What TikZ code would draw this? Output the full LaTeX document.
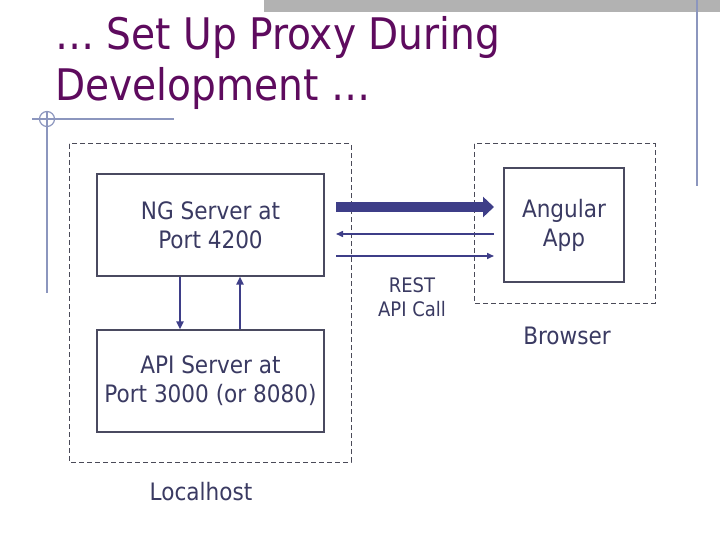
\documentclass[tikz,border=0pt]{standalone}
\usepackage{fontspec}
\setmainfont{DejaVu Sans Condensed}
\usetikzlibrary{arrows.meta}
\definecolor{titlec}{HTML}{5E0B5E}
\definecolor{txtc}{HTML}{3A3A62}
\definecolor{boxc}{HTML}{4A4A60}
\definecolor{arrc}{HTML}{3E3E88}
\definecolor{decoc}{HTML}{8C96BE}
\definecolor{checkc}{HTML}{B2B2B2}
\definecolor{dashc}{HTML}{4A4A58}
\begin{document}
\begin{tikzpicture}[x=1pt,y=-1pt,
  box/.style={draw=boxc, line width=1.2pt, inner sep=0pt, text=txtc, align=center,
    font=\fontsize{24}{29}\selectfont},
  label/.style={text=txtc, align=center, inner sep=0pt},
  region/.style={draw=dashc, line width=1pt, dash pattern=on 5pt off 3pt},
  deco/.style={draw=decoc, line width=1.2pt},
  bigarrow/.style={draw=arrc, line width=10pt, -{Triangle[length=11pt,width=20pt]}},
  thinarrow/.style={draw=arrc, line width=1.5pt, -{Triangle[length=7pt,width=6pt]}},
  vertarrow/.style={draw=arrc, line width=2pt, -{Triangle[length=8pt,width=7pt]}},
  titletext/.style={text=titlec, anchor=base west, inner sep=0pt, font=\fontsize{43.5}{50}\selectfont}
]
\useasboundingbox (0,0) rectangle (720,540);
\fill[white] (0,0) rectangle (720,540);

% decorative slide elements
\fill[checkc] (264,0) rectangle (720,12);
\draw[deco] (697,0) -- (697,186);
\draw[deco] (32,119) -- (174,119);
\draw[deco] (47,112) -- (47,293);
\draw[deco] (47,119) circle (7.5);

% title
\node[titletext] (title1) at (55,50) {… Set Up Proxy During};
\node[titletext] (title2) at (55,101) {Development …};

% regions
\draw[region] (69,144) rectangle (351,462);
\draw[region] (474,144) rectangle (655,303);

% boxes
\node[box, minimum width=227pt, minimum height=102pt] (ng) at (210.5,225) {NG Server at\\Port 4200};
\node[box, minimum width=227pt, minimum height=102pt] (api) at (210.5,381) {API Server at\\Port 3000 (or 8080)};
\node[box, minimum width=120pt, minimum height=114pt] (app) at (564,225) {Angular\\App};

% labels
\node[label, font=\fontsize{20}{24}\selectfont] (rest) at (412,297) {REST\\API Call};
\node[label, font=\fontsize{24}{29}\selectfont] (browser) at (567,336) {Browser};
\node[label, font=\fontsize{24}{29}\selectfont] (localhost) at (201,492) {Localhost};

% arrow end points
\coordinate (a1s) at (336,207);
\coordinate (a1e) at (494,207);
\coordinate (a2s) at (494,234);
\coordinate (a2e) at (336,234);
\coordinate (a3s) at (336,256);
\coordinate (a3e) at (494,256);
\coordinate (vx1) at (180,0);
\coordinate (vx2) at (240,0);

\draw[bigarrow] (a1s) -- (a1e);
\draw[thinarrow] (a2s) -- (a2e);
\draw[thinarrow] (a3s) -- (a3e);
\draw[vertarrow] (ng.south -| vx1) -- (api.north -| vx1);
\draw[vertarrow] (api.north -| vx2) -- (ng.south -| vx2);
\end{tikzpicture}
\end{document}
